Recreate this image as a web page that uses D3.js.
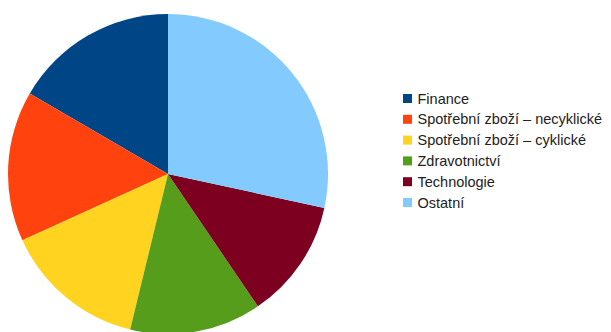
<!DOCTYPE html>
<html>
<head>
<meta charset="utf-8">
<script src="https://cdn.jsdelivr.net/npm/d3@7"></script>
<style>
  html, body { margin: 0; padding: 0; background: #fff; }
  svg { display: block; }
  text { font-family: "Liberation Sans", Arial, sans-serif; }
</style>
</head>
<body>
<svg id="chart" width="611" height="332"></svg>
<script>
// Sector shares (percent)
const categories = [
  "Finance",
  "Spotřební zboží – necyklické",
  "Spotřební zboží – cyklické",
  "Zdravotnictví",
  "Technologie",
  "Ostatní"
];
const values = [16.6, 15.2, 14.4, 13.3, 12.1, 28.4];
const colors = ["#004586", "#ff420e", "#ffd320", "#579d1c", "#7e0021", "#83caff"];

const svg = d3.select("#chart");
const cx = 168, cy = 174, radius = 160;

const data = categories.map((c, i) => ({ name: c, value: values[i] }));
const color = d3.scaleOrdinal().domain(categories).range(colors);

// Slices run counter-clockwise from 12 o'clock
const pie = d3.pie().sort(null).value(d => d.value)
  .startAngle(0).endAngle(-2 * Math.PI);
const arc = d3.arc().innerRadius(0).outerRadius(radius);

svg.append("g")
  .attr("transform", `translate(${cx},${cy})`)
  .selectAll("path")
  .data(pie(data))
  .join("path")
  .attr("d", arc)
  .attr("fill", d => color(d.data.name));

// Legend
const legend = svg.append("g").attr("transform", "translate(403,98.5)");
const row = d3.scaleBand().domain(categories).range([0, 6 * 20.8]);
const items = legend.selectAll("g")
  .data(categories)
  .join("g")
  .attr("transform", d => `translate(0,${row(d)})`);
items.append("rect")
  .attr("x", 0).attr("y", -4.5)
  .attr("width", 9).attr("height", 9)
  .attr("fill", d => color(d));
items.append("text")
  .attr("x", 14.5).attr("y", 0)
  .attr("dy", "0.35em")
  .attr("font-size", 14.5)
  .attr("fill", "#222")
  .text(d => d);
</script>
</body>
</html>
